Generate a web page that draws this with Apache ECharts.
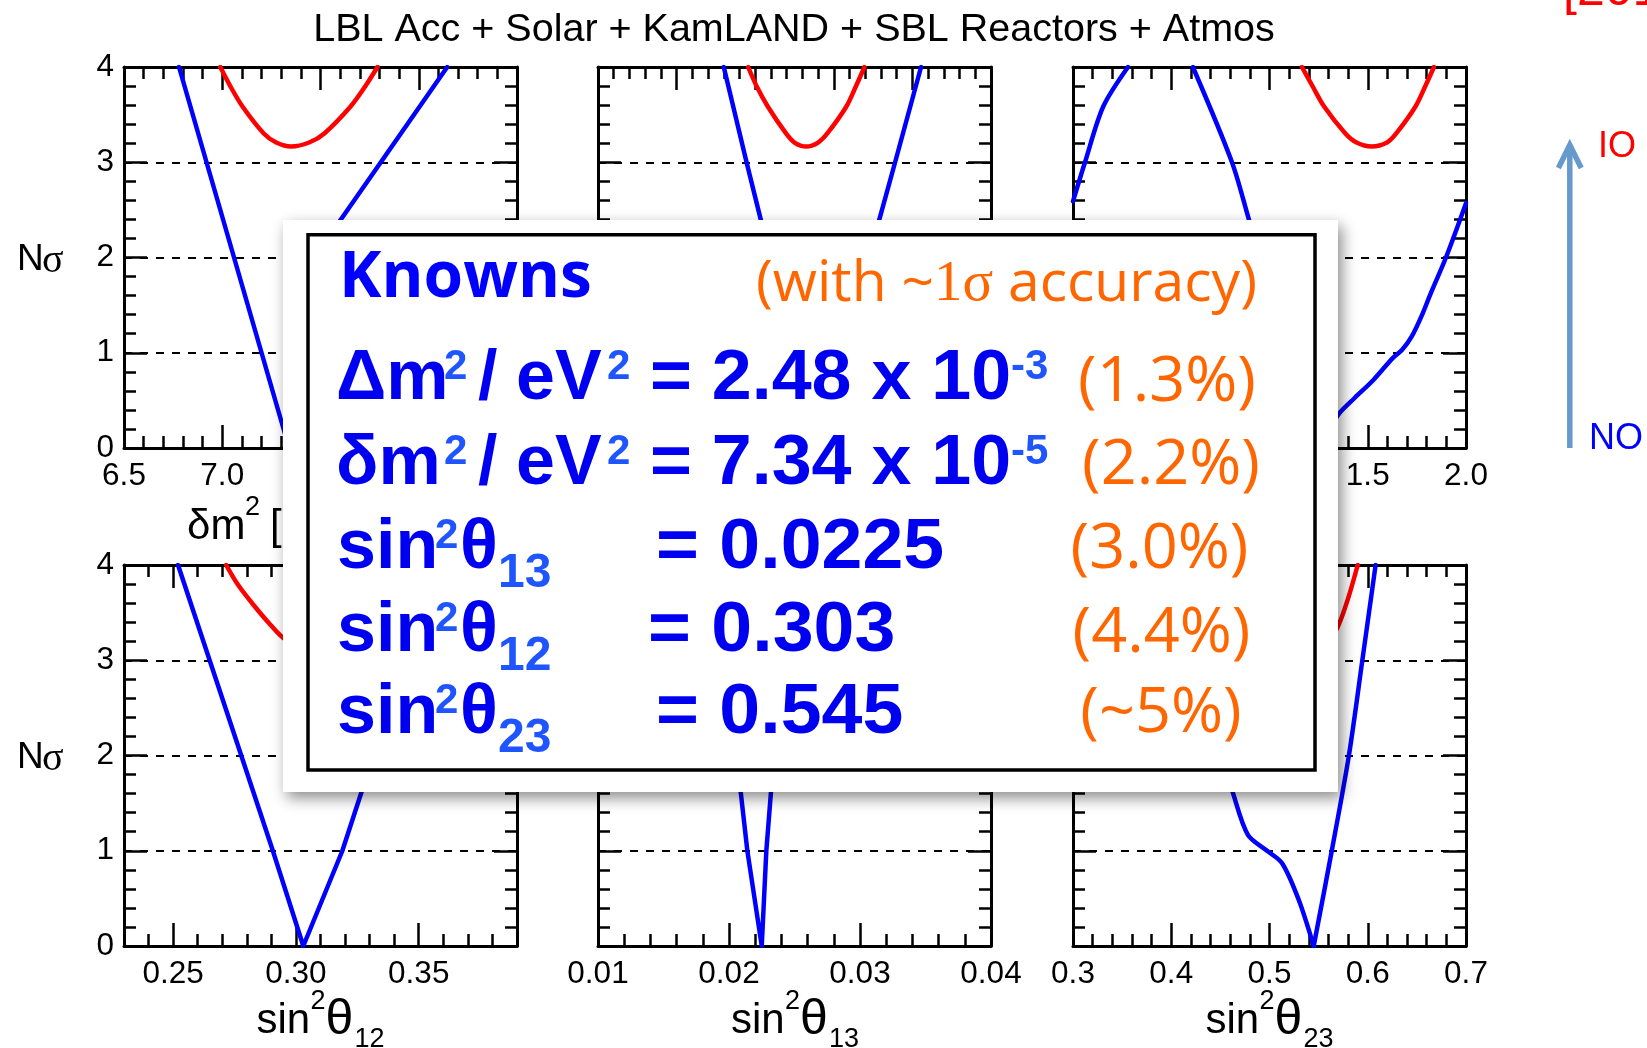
<!DOCTYPE html>
<html>
<head>
<meta charset="utf-8">
<script src="https://cdn.jsdelivr.net/npm/echarts@6/dist/echarts.min.js"></script>
<style>
  html, body { margin: 0; padding: 0; background: #fff; }
  #chart { width: 1647px; height: 1048px; }
</style>
</head>
<body>
<div id="chart"></div>
<script>
// ---- Nσ profiles: [parameter value, Nσ] for normal (NO) and inverted (IO) ordering ----
// δm² [10^-5 eV²]
const dmsqNO = [[6.78, 4.0], [7.34, 0.0], [7.47, 1.0], [7.56, 2.0], [7.593, 2.367], [7.807, 3.0], [8.145, 4.0]];
const dmsqIO = [[6.99, 4.0], [7.042, 3.795], [7.103, 3.585], [7.21, 3.305], [7.275, 3.207], [7.35, 3.165],
                [7.442, 3.207], [7.521, 3.305], [7.653, 3.585], [7.727, 3.795], [7.79, 4.0]];
// Δm² [10^-3 eV²]
const DmsqNO = [[2.360, 4.0], [2.389, 3.0], [2.407, 2.4], [2.478, 0.0], [2.558, 2.4], [2.578, 3.0], [2.611, 4.0]];
const DmsqIO = [[2.391, 4.0], [2.402, 3.795], [2.416, 3.585], [2.439, 3.305], [2.450, 3.207], [2.465, 3.165],
                [2.480, 3.207], [2.492, 3.305], [2.516, 3.585], [2.528, 3.795], [2.539, 4.0]];
// δ/π
const deltaNOa = [[0.0, 2.59], [0.061, 3.0], [0.154, 3.585], [0.28, 4.0]];
const deltaNOb = [[0.61, 4.0], [0.809, 3.0], [0.895, 2.4], [0.98, 1.8], [1.07, 1.15], [1.15, 0.55], [1.23, 0.0],
                  [1.356, 0.367], [1.433, 0.525], [1.530, 0.717], [1.627, 0.944], [1.675, 1.031], [1.724, 1.171],
                  [1.773, 1.381], [1.821, 1.626], [1.898, 2.0], [2.0, 2.57]];
const deltaIO  = [[1.165, 4.0], [1.220, 3.795], [1.278, 3.585], [1.385, 3.305], [1.443, 3.207], [1.52, 3.165],
                  [1.598, 3.207], [1.646, 3.305], [1.743, 3.585], [1.792, 3.795], [1.837, 4.0]];
// sin²θ12
const s12NO = [[0.252, 4.0], [0.2906, 1.0], [0.303, 0.0], [0.3189, 1.0], [0.327, 1.64], [0.360, 4.0]];
const s12IO = [[0.2716, 4.0], [0.2762, 3.80], [0.2825, 3.588], [0.2895, 3.376], [0.2957, 3.218], [0.303, 3.165],
               [0.311, 3.22], [0.322, 3.45], [0.333, 3.75], [0.341, 4.0]];
// sin²θ13
const s13NO = [[0.0193, 4.0], [0.0209, 1.61], [0.0214, 1.0], [0.0225, 0.0], [0.02285, 1.0], [0.0232, 1.61], [0.0253, 4.0]];
const s13IO = [[0.0205, 4.0], [0.0215, 3.5], [0.0226, 3.165], [0.0237, 3.5], [0.0248, 4.0]];
// sin²θ23 (lower and upper octant sides of the NO minimum)
const s23NOlow  = [[0.395, 4.0], [0.420, 3.0], [0.445, 2.2], [0.4627, 1.61], [0.478, 1.167], [0.4975, 1.0],
                   [0.513, 0.867], [0.530, 0.478], [0.545, 0.0]];
const s23NOhigh = [[0.545, 0.0], [0.5634, 1.0], [0.5808, 2.0], [0.5945, 3.0], [0.608, 4.0]];
const s23IO = [[0.50, 4.0], [0.52, 3.6], [0.545, 3.2], [0.556, 3.165], [0.569, 3.34], [0.580, 3.65], [0.5898, 4.0]];

// ---- axis ranges and tick labels ----
const dmsqTicks  = [6.5, 7.0, 7.5, 8.0, 8.5];
const DmsqTicks  = [2.2, 2.3, 2.4, 2.5, 2.6, 2.7];
const deltaTicks = [0.0, 0.5, 1.0, 1.5, 2.0];
const s12Ticks   = [0.25, 0.30, 0.35];
const s13Ticks   = [0.01, 0.02, 0.03, 0.04];
const s23Ticks   = [0.3, 0.4, 0.5, 0.6, 0.7];
const sigmaTicks = [0, 1, 2, 3, 4];

const BLUE = '#0000ff', RED = '#ff0000';
const FONT = '"Liberation Sans", Arial, Helvetica, sans-serif';
const SERIF = '"Liberation Serif", "DejaVu Serif", serif';
const BOXFONT = '"Open Sans", "Noto Sans", sans-serif';
const TXT_BLUE = '#0000f0', SUP_BLUE = '#1f55ff', ORANGE = '#ff6600';

const panels = [
  { range: [6.5, 8.5],   minor: 0.1,   ticks: dmsqTicks,  digits: 1, lines: [[dmsqNO, BLUE, false], [dmsqIO, RED, true]] },
  { range: [2.2, 2.7],   minor: 0.02,  ticks: DmsqTicks,  digits: 1, lines: [[DmsqNO, BLUE, false], [DmsqIO, RED, true]] },
  { range: [0, 2],       minor: 0.1,   ticks: deltaTicks, digits: 1, lines: [[deltaNOa, BLUE, true], [deltaNOb, BLUE, true], [deltaIO, RED, true]] },
  { range: [0.23, 0.39], minor: 0.01,  ticks: s12Ticks,   digits: 2, lines: [[s12NO, BLUE, false], [s12IO, RED, true]] },
  { range: [0.01, 0.04], minor: 0.002, ticks: s13Ticks,   digits: 2, lines: [[s13NO, BLUE, false], [s13IO, RED, true]] },
  { range: [0.3, 0.7],   minor: 0.02,  ticks: s23Ticks,   digits: 1, lines: [[s23NOlow, BLUE, true], [s23NOhigh, BLUE, true], [s23IO, RED, true]] }
];

// frame placement
const COLS = [124, 598, 1073], ROWS = [67, 565], PW = 393, PH = 381;

const frameLine = { show: true, onZero: false, lineStyle: { color: '#000', width: 3 } };
const tickStyle = { color: '#000', width: 2.5 };

const grid = [], xAxis = [], yAxis = [], series = [];
panels.forEach((p, i) => {
  const leftColumn = i % 3 === 0;
  grid.push({ left: COLS[i % 3], top: ROWS[Math.floor(i / 3)], width: PW, height: PH,
              containLabel: false, outerBoundsMode: 'none' });
  ['bottom', 'top'].forEach(pos => {
    xAxis.push({ type: 'value', gridIndex: i, position: pos, min: p.range[0], max: p.range[1], interval: p.minor,
      axisLine: frameLine, axisTick: { show: true, inside: true, length: 12, lineStyle: tickStyle },
      axisLabel: { show: false }, splitLine: { show: false } });
    xAxis.push({ type: 'value', gridIndex: i, position: pos, min: p.range[0], max: p.range[1], interval: p.minor,
      axisLine: { show: false, onZero: false },
      axisTick: { show: true, inside: true, length: 23, customValues: p.ticks, lineStyle: tickStyle },
      axisLabel: pos === 'bottom'
        ? { show: true, customValues: p.ticks, formatter: v => Number(v).toFixed(p.digits),
            fontSize: 31.5, fontFamily: FONT, color: '#000', margin: 12 }
        : { show: false },
      splitLine: { show: false } });
  });
  ['left', 'right'].forEach(pos => {
    yAxis.push({ type: 'value', gridIndex: i, position: pos, min: 0, max: 4, interval: 0.2,
      axisLine: frameLine, axisTick: { show: true, inside: true, length: 12, lineStyle: tickStyle },
      axisLabel: { show: false }, splitLine: { show: false } });
    yAxis.push({ type: 'value', gridIndex: i, position: pos, min: 0, max: 4, interval: 1,
      axisLine: { show: false, onZero: false },
      axisTick: { show: true, inside: true, length: 23, lineStyle: tickStyle },
      axisLabel: (pos === 'left' && leftColumn)
        ? { show: true, customValues: sigmaTicks, fontSize: 31.5, fontFamily: FONT, color: '#000', margin: 10,
            padding: [10, 0, 0, 0] }
        : { show: false },
      splitLine: pos === 'left'
        ? { show: true, lineStyle: { color: '#000', width: 2, type: [8, 8] } }
        : { show: false } });
  });
  p.lines.forEach(([data, color, smooth]) => {
    series.push({ type: 'line', xAxisIndex: 4 * i, yAxisIndex: 4 * i, data, showSymbol: false, symbol: 'none',
      smooth: smooth ? 0.3 : false, clip: true, z: 3, silent: true,
      lineStyle: { color, width: 4.5, cap: 'round', join: 'round' } });
  });
});

// ---- text helpers ----
function T(x, y, text, o) {
  const el = { type: 'text', x, y, z: o.z == null ? 5 : o.z, silent: true,
    style: { text, fill: o.c || '#000', fontSize: o.s, fontFamily: o.f || FONT, fontWeight: o.w || 'normal',
             align: o.a || 'left', verticalAlign: 'middle', rich: o.rich } };
  if (o.sx) el.scaleX = o.sx;
  return el;
}

const els = [];
// title
els.push(T(794, 30, 'LBL Acc + Solar + KamLAND + SBL Reactors + Atmos', { s: 39.5, a: 'center' }));
// Nσ labels
[260, 758].forEach(y => {
  els.push(T(17, y, 'N', { s: 37 }));
  els.push(T(42, y + 1, 'σ', { s: 40, f: SERIF }));
});
// axis titles (top row)
const tyc = 527;
els.push(T(187, tyc, 'δm', { s: 42 }), T(245, tyc - 19, '2', { s: 27 }), T(270, tyc, '[10', { s: 42 }),
         T(329, tyc - 19, '-5', { s: 27 }), T(352, tyc, ' eV', { s: 42 }), T(415, tyc - 19, '2', { s: 27 }),
         T(430, tyc, ']', { s: 42 }));
els.push(T(661, tyc, 'Δm', { s: 42 }), T(722, tyc - 19, '2', { s: 27 }), T(747, tyc, '[10', { s: 42 }),
         T(806, tyc - 19, '-3', { s: 27 }), T(829, tyc, ' eV', { s: 42 }), T(892, tyc, ']', { s: 42 }));
els.push(T(1269, tyc, 'δ/π', { s: 42, a: 'center' }));
// axis titles (bottom row)
const byc = 1021;
[[320.5, '12'], [795, '13'], [1269.5, '23']].forEach(([cx, sub]) => {
  els.push(T(cx - 64, byc, 'sin', { s: 42 }));
  els.push(T(cx - 10, byc - 19, '2', { s: 27 }));
  els.push(T(cx + 5, byc - 1, 'θ', { s: 50 }));
  els.push(T(cx + 34, byc + 19, sub, { s: 27 }));
});
// ordering arrow and labels
els.push({ type: 'line', z: 5, silent: true, shape: { x1: 1569.8, y1: 448, x2: 1569.8, y2: 148 },
           style: { stroke: '#6699cc', lineWidth: 5.5 } });
els.push({ type: 'polyline', z: 5, silent: true, shape: { points: [[1558.4, 168], [1569.8, 145], [1581.2, 168]] },
           style: { stroke: '#6699cc', lineWidth: 5.5, fill: 'none', lineJoin: 'miter' } });
els.push(T(1598, 147, 'IO', { s: 36, c: RED }));
els.push(T(1589, 439, 'NO', { s: 36, c: BLUE }));
els.push(T(1563, -9, '[2018]', { s: 50, c: RED }));

// ---- summary box ----
els.push({ type: 'rect', z: 100, silent: true, shape: { x: 283, y: 220, width: 1055, height: 572 },
           style: { fill: '#fff', shadowBlur: 14, shadowOffsetX: 4, shadowOffsetY: 6, shadowColor: 'rgba(0,0,0,0.45)' } });
els.push({ type: 'rect', z: 101, silent: true, shape: { x: 308, y: 234.7, width: 1007, height: 535.3 },
           style: { fill: 'none', stroke: '#000', lineWidth: 3.5 } });

const B = { z: 102, s: 70, w: 'bold', c: TXT_BLUE };
const SUP = { z: 102, s: 42, w: 'bold', c: SUP_BLUE };
const SUB = { z: 102, s: 48, w: 'bold', c: SUP_BLUE };
const PCT = { z: 102, s: 63, f: BOXFONT, c: ORANGE, a: 'center' };

els.push(T(339, 279, 'Knowns', { z: 102, s: 64, w: 'bold', f: BOXFONT, c: BLUE }));
els.push(T(756, 285, '{a|(with ~}{b|1σ}{a| accuracy)}', { z: 102, s: 57, f: BOXFONT, c: ORANGE,
  rich: { a: { fontSize: 57, fontFamily: BOXFONT, fill: ORANGE },
          b: { fontSize: 57, fontFamily: SERIF, fill: ORANGE } } }));

// mass splittings
[[380, 'Δm', '= 2.48 x 10', '-3', '(1.3%)', 1167, 383], [465, 'δm', '= 7.34 x 10', '-5', '(2.2%)', 1171, 466]].forEach(
  ([y, lhs, rhs, expo, pct, pcx, pcy]) => {
    els.push(T(336, y, lhs, B), T(444, y - 13, '2', SUP), T(478, y, '/', B), T(516, y, 'eV', B),
             T(607, y - 13, '2', SUP), T(650, y, rhs, Object.assign({ sx: 1.025 }, B)), T(1011, y - 13, expo, SUP));
    els.push(T(pcx, pcy, pct, PCT));
  });
// mixing angles
[[549, '13', '= 0.0225', 656, '(3.0%)', 1159.5, 550], [632, '12', '= 0.303', 648, '(4.4%)', 1161.5, 634],
 [714, '23', '= 0.545', 656, '(~5%)', 1161, 714]].forEach(([y, sub, rhs, rx, pct, pcx, pcy]) => {
  els.push(T(337, y, 'sin', B), T(435, y - 13, '2', SUP), T(460, y, 'θ', B), T(498, y + 25, sub, SUB),
           T(rx, y, rhs, Object.assign({ sx: 1.05 }, B)));
  els.push(T(pcx, pcy, pct, PCT));
});

const chart = echarts.init(document.getElementById('chart'), null, { renderer: 'canvas' });
chart.setOption({ animation: false, backgroundColor: '#fff', grid, xAxis, yAxis, series, graphic: { elements: els } });
</script>
</body>
</html>
